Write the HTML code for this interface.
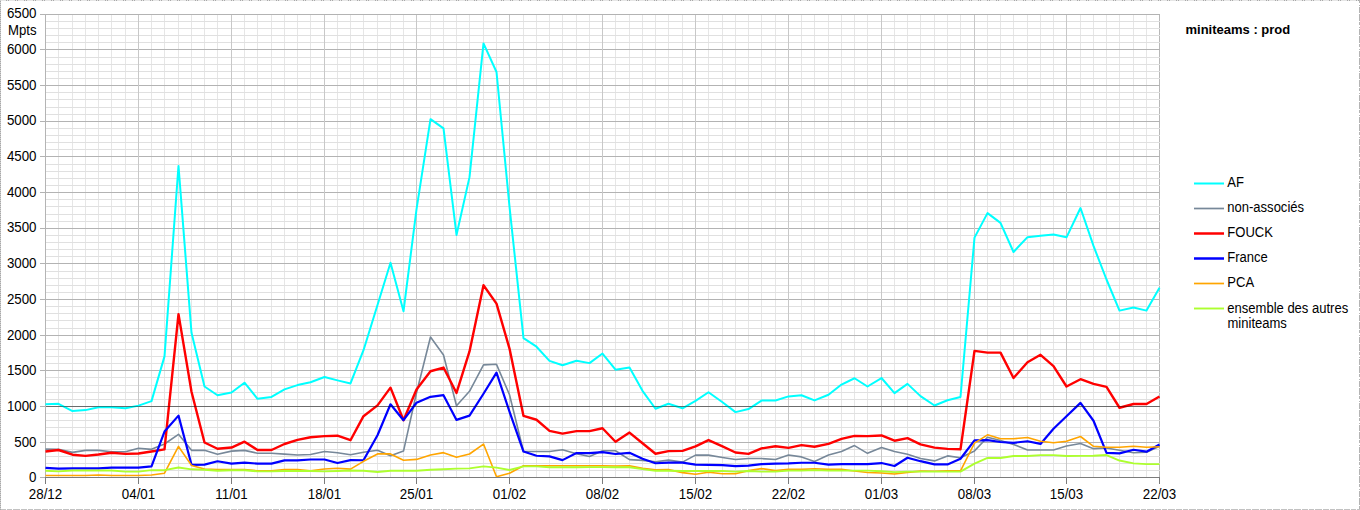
<!DOCTYPE html><html><head><meta charset="utf-8"><style>html,body{margin:0;padding:0;background:#fff;width:1360px;height:510px;overflow:hidden}svg{display:block}text{font-family:"Liberation Sans",sans-serif;fill:#000}</style></head><body>
<svg width="1360" height="510" viewBox="0 0 1360 510" shape-rendering="crispEdges">
<rect x="0" y="0" width="1360" height="510" fill="#fff"/>
<g stroke-width="1" fill="none">
<line x1="0" y1="0.5" x2="1360" y2="0.5" stroke="#e6e6e6"/>
<line x1="6" y1="0.5" x2="1360" y2="0.5" stroke="#a8a8a8" stroke-dasharray="1,1,1,6"/>
<line x1="0" y1="509.5" x2="1360" y2="509.5" stroke="#c2c2c2" stroke-dasharray="6,1,5,1,7,1"/>
<line x1="0.5" y1="0" x2="0.5" y2="510" stroke="#d0d0d0"/>
<line x1="0.5" y1="1" x2="0.5" y2="510" stroke="#a8a8a8" stroke-dasharray="1,1"/>
<line x1="1359.5" y1="0" x2="1359.5" y2="510" stroke="#b4b4b4" stroke-dasharray="3,2,1,1,6,1,7,1"/>
</g>
<g stroke="#e6e6e6" stroke-width="1">
<line x1="58.5" y1="15" x2="58.5" y2="477"/>
<line x1="72.5" y1="15" x2="72.5" y2="477"/>
<line x1="85.5" y1="15" x2="85.5" y2="477"/>
<line x1="98.5" y1="15" x2="98.5" y2="477"/>
<line x1="111.5" y1="15" x2="111.5" y2="477"/>
<line x1="125.5" y1="15" x2="125.5" y2="477"/>
<line x1="151.5" y1="15" x2="151.5" y2="477"/>
<line x1="164.5" y1="15" x2="164.5" y2="477"/>
<line x1="178.5" y1="15" x2="178.5" y2="477"/>
<line x1="191.5" y1="15" x2="191.5" y2="477"/>
<line x1="204.5" y1="15" x2="204.5" y2="477"/>
<line x1="217.5" y1="15" x2="217.5" y2="477"/>
<line x1="244.5" y1="15" x2="244.5" y2="477"/>
<line x1="257.5" y1="15" x2="257.5" y2="477"/>
<line x1="271.5" y1="15" x2="271.5" y2="477"/>
<line x1="284.5" y1="15" x2="284.5" y2="477"/>
<line x1="297.5" y1="15" x2="297.5" y2="477"/>
<line x1="310.5" y1="15" x2="310.5" y2="477"/>
<line x1="337.5" y1="15" x2="337.5" y2="477"/>
<line x1="350.5" y1="15" x2="350.5" y2="477"/>
<line x1="363.5" y1="15" x2="363.5" y2="477"/>
<line x1="377.5" y1="15" x2="377.5" y2="477"/>
<line x1="390.5" y1="15" x2="390.5" y2="477"/>
<line x1="403.5" y1="15" x2="403.5" y2="477"/>
<line x1="430.5" y1="15" x2="430.5" y2="477"/>
<line x1="443.5" y1="15" x2="443.5" y2="477"/>
<line x1="456.5" y1="15" x2="456.5" y2="477"/>
<line x1="469.5" y1="15" x2="469.5" y2="477"/>
<line x1="483.5" y1="15" x2="483.5" y2="477"/>
<line x1="496.5" y1="15" x2="496.5" y2="477"/>
<line x1="523.5" y1="15" x2="523.5" y2="477"/>
<line x1="536.5" y1="15" x2="536.5" y2="477"/>
<line x1="549.5" y1="15" x2="549.5" y2="477"/>
<line x1="562.5" y1="15" x2="562.5" y2="477"/>
<line x1="576.5" y1="15" x2="576.5" y2="477"/>
<line x1="589.5" y1="15" x2="589.5" y2="477"/>
<line x1="615.5" y1="15" x2="615.5" y2="477"/>
<line x1="629.5" y1="15" x2="629.5" y2="477"/>
<line x1="642.5" y1="15" x2="642.5" y2="477"/>
<line x1="655.5" y1="15" x2="655.5" y2="477"/>
<line x1="668.5" y1="15" x2="668.5" y2="477"/>
<line x1="682.5" y1="15" x2="682.5" y2="477"/>
<line x1="708.5" y1="15" x2="708.5" y2="477"/>
<line x1="722.5" y1="15" x2="722.5" y2="477"/>
<line x1="735.5" y1="15" x2="735.5" y2="477"/>
<line x1="748.5" y1="15" x2="748.5" y2="477"/>
<line x1="761.5" y1="15" x2="761.5" y2="477"/>
<line x1="775.5" y1="15" x2="775.5" y2="477"/>
<line x1="801.5" y1="15" x2="801.5" y2="477"/>
<line x1="814.5" y1="15" x2="814.5" y2="477"/>
<line x1="828.5" y1="15" x2="828.5" y2="477"/>
<line x1="841.5" y1="15" x2="841.5" y2="477"/>
<line x1="854.5" y1="15" x2="854.5" y2="477"/>
<line x1="867.5" y1="15" x2="867.5" y2="477"/>
<line x1="894.5" y1="15" x2="894.5" y2="477"/>
<line x1="907.5" y1="15" x2="907.5" y2="477"/>
<line x1="920.5" y1="15" x2="920.5" y2="477"/>
<line x1="934.5" y1="15" x2="934.5" y2="477"/>
<line x1="947.5" y1="15" x2="947.5" y2="477"/>
<line x1="960.5" y1="15" x2="960.5" y2="477"/>
<line x1="987.5" y1="15" x2="987.5" y2="477"/>
<line x1="1000.5" y1="15" x2="1000.5" y2="477"/>
<line x1="1013.5" y1="15" x2="1013.5" y2="477"/>
<line x1="1027.5" y1="15" x2="1027.5" y2="477"/>
<line x1="1040.5" y1="15" x2="1040.5" y2="477"/>
<line x1="1053.5" y1="15" x2="1053.5" y2="477"/>
<line x1="1080.5" y1="15" x2="1080.5" y2="477"/>
<line x1="1093.5" y1="15" x2="1093.5" y2="477"/>
<line x1="1106.5" y1="15" x2="1106.5" y2="477"/>
<line x1="1119.5" y1="15" x2="1119.5" y2="477"/>
<line x1="1133.5" y1="15" x2="1133.5" y2="477"/>
<line x1="1146.5" y1="15" x2="1146.5" y2="477"/>
</g>
<line x1="1159.5" y1="15" x2="1159.5" y2="477" stroke="#b8b8b8" stroke-width="1"/>
<g stroke="#e0e0e0" stroke-width="1">
<line x1="45" y1="470.5" x2="1160" y2="470.5"/>
<line x1="45" y1="463.5" x2="1160" y2="463.5"/>
<line x1="45" y1="456.5" x2="1160" y2="456.5"/>
<line x1="45" y1="449.5" x2="1160" y2="449.5"/>
<line x1="45" y1="435.5" x2="1160" y2="435.5"/>
<line x1="45" y1="427.5" x2="1160" y2="427.5"/>
<line x1="45" y1="420.5" x2="1160" y2="420.5"/>
<line x1="45" y1="413.5" x2="1160" y2="413.5"/>
<line x1="45" y1="399.5" x2="1160" y2="399.5"/>
<line x1="45" y1="392.5" x2="1160" y2="392.5"/>
<line x1="45" y1="385.5" x2="1160" y2="385.5"/>
<line x1="45" y1="377.5" x2="1160" y2="377.5"/>
<line x1="45" y1="363.5" x2="1160" y2="363.5"/>
<line x1="45" y1="356.5" x2="1160" y2="356.5"/>
<line x1="45" y1="349.5" x2="1160" y2="349.5"/>
<line x1="45" y1="342.5" x2="1160" y2="342.5"/>
<line x1="45" y1="328.5" x2="1160" y2="328.5"/>
<line x1="45" y1="320.5" x2="1160" y2="320.5"/>
<line x1="45" y1="313.5" x2="1160" y2="313.5"/>
<line x1="45" y1="306.5" x2="1160" y2="306.5"/>
<line x1="45" y1="292.5" x2="1160" y2="292.5"/>
<line x1="45" y1="285.5" x2="1160" y2="285.5"/>
<line x1="45" y1="278.5" x2="1160" y2="278.5"/>
<line x1="45" y1="271.5" x2="1160" y2="271.5"/>
<line x1="45" y1="256.5" x2="1160" y2="256.5"/>
<line x1="45" y1="249.5" x2="1160" y2="249.5"/>
<line x1="45" y1="242.5" x2="1160" y2="242.5"/>
<line x1="45" y1="235.5" x2="1160" y2="235.5"/>
<line x1="45" y1="221.5" x2="1160" y2="221.5"/>
<line x1="45" y1="214.5" x2="1160" y2="214.5"/>
<line x1="45" y1="206.5" x2="1160" y2="206.5"/>
<line x1="45" y1="199.5" x2="1160" y2="199.5"/>
<line x1="45" y1="185.5" x2="1160" y2="185.5"/>
<line x1="45" y1="178.5" x2="1160" y2="178.5"/>
<line x1="45" y1="171.5" x2="1160" y2="171.5"/>
<line x1="45" y1="164.5" x2="1160" y2="164.5"/>
<line x1="45" y1="149.5" x2="1160" y2="149.5"/>
<line x1="45" y1="142.5" x2="1160" y2="142.5"/>
<line x1="45" y1="135.5" x2="1160" y2="135.5"/>
<line x1="45" y1="128.5" x2="1160" y2="128.5"/>
<line x1="45" y1="114.5" x2="1160" y2="114.5"/>
<line x1="45" y1="107.5" x2="1160" y2="107.5"/>
<line x1="45" y1="99.5" x2="1160" y2="99.5"/>
<line x1="45" y1="92.5" x2="1160" y2="92.5"/>
<line x1="45" y1="78.5" x2="1160" y2="78.5"/>
<line x1="45" y1="71.5" x2="1160" y2="71.5"/>
<line x1="45" y1="64.5" x2="1160" y2="64.5"/>
<line x1="45" y1="57.5" x2="1160" y2="57.5"/>
<line x1="45" y1="42.5" x2="1160" y2="42.5"/>
<line x1="45" y1="35.5" x2="1160" y2="35.5"/>
<line x1="45" y1="28.5" x2="1160" y2="28.5"/>
<line x1="45" y1="21.5" x2="1160" y2="21.5"/>
</g>
<g stroke="#b3b3b3" stroke-width="1">
<line x1="40" y1="477.5" x2="1160" y2="477.5"/>
<line x1="40" y1="442.5" x2="1160" y2="442.5"/>
<line x1="40" y1="406.5" x2="1160" y2="406.5"/>
<line x1="40" y1="370.5" x2="1160" y2="370.5"/>
<line x1="40" y1="335.5" x2="1160" y2="335.5"/>
<line x1="40" y1="299.5" x2="1160" y2="299.5"/>
<line x1="40" y1="263.5" x2="1160" y2="263.5"/>
<line x1="40" y1="228.5" x2="1160" y2="228.5"/>
<line x1="40" y1="192.5" x2="1160" y2="192.5"/>
<line x1="40" y1="156.5" x2="1160" y2="156.5"/>
<line x1="40" y1="121.5" x2="1160" y2="121.5"/>
<line x1="40" y1="85.5" x2="1160" y2="85.5"/>
<line x1="40" y1="49.5" x2="1160" y2="49.5"/>
<line x1="40" y1="14.5" x2="1160" y2="14.5"/>
</g>
<g stroke="#c8c8c8" stroke-width="1">
<line x1="138.5" y1="15" x2="138.5" y2="477"/>
<line x1="231.5" y1="15" x2="231.5" y2="477"/>
<line x1="324.5" y1="15" x2="324.5" y2="477"/>
<line x1="416.5" y1="15" x2="416.5" y2="477"/>
<line x1="509.5" y1="15" x2="509.5" y2="477"/>
<line x1="602.5" y1="15" x2="602.5" y2="477"/>
<line x1="695.5" y1="15" x2="695.5" y2="477"/>
<line x1="788.5" y1="15" x2="788.5" y2="477"/>
<line x1="881.5" y1="15" x2="881.5" y2="477"/>
<line x1="974.5" y1="15" x2="974.5" y2="477"/>
<line x1="1066.5" y1="15" x2="1066.5" y2="477"/>
</g>
<line x1="45.5" y1="14" x2="45.5" y2="477" stroke="#b4b4b4" stroke-width="1"/>
<g fill="none" stroke-linejoin="round" stroke-linecap="butt" shape-rendering="geometricPrecision">
<polyline stroke="#00ffff" stroke-width="2" points="45.50,404.20 58.50,403.77 72.50,411.04 85.50,410.12 98.50,407.34 111.50,407.34 125.50,408.33 138.50,405.62 151.50,401.13 164.50,356.40 178.50,165.94 191.50,332.86 204.50,386.51 217.50,395.21 231.50,392.43 244.50,382.73 257.50,398.78 271.50,396.92 284.50,389.36 297.50,385.08 310.50,382.23 324.50,377.02 337.50,380.37 350.50,383.44 363.50,350.20 377.50,305.04 390.50,262.82 403.50,311.25 416.50,209.46 430.50,119.15 443.50,128.42 456.50,234.92 469.50,177.14 483.50,43.39 496.50,72.00 509.50,206.60 523.50,338.07 536.50,346.70 549.50,360.83 562.50,365.25 576.50,360.76 589.50,363.11 602.50,353.55 615.50,369.74 629.50,367.46 642.50,390.86 655.50,408.76 668.50,403.70 682.50,408.26 695.50,400.92 708.50,392.28 722.50,402.27 735.50,412.11 748.50,409.05 761.50,400.56 775.50,400.56 788.50,396.42 801.50,395.21 814.50,400.42 828.50,394.78 841.50,384.58 854.50,378.23 867.50,386.51 881.50,378.02 894.50,393.14 907.50,383.87 920.50,396.14 934.50,405.48 947.50,400.20 960.50,396.99 974.50,237.63 987.50,213.10 1000.50,222.87 1013.50,251.97 1027.50,237.14 1040.50,235.78 1053.50,234.42 1066.50,237.35 1080.50,208.03 1093.50,245.91 1106.50,279.51 1119.50,310.61 1133.50,307.54 1146.50,310.61 1159.50,287.85"/>
<polyline stroke="#778899" stroke-width="1.6" points="45.50,449.14 58.50,449.35 72.50,452.35 85.50,450.35 98.50,450.35 111.50,451.78 125.50,451.78 138.50,448.21 151.50,449.35 164.50,444.00 178.50,434.30 191.50,450.35 204.50,450.35 217.50,454.34 231.50,451.13 244.50,450.35 257.50,453.27 271.50,453.27 284.50,454.13 297.50,455.06 310.50,454.49 324.50,451.49 337.50,452.70 350.50,454.70 363.50,452.28 377.50,450.28 390.50,455.77 403.50,451.06 416.50,392.78 430.50,337.00 443.50,354.98 456.50,405.77 469.50,391.29 483.50,364.89 496.50,364.32 509.50,394.78 523.50,451.56 536.50,451.56 549.50,451.56 562.50,449.71 576.50,453.84 589.50,456.41 602.50,450.78 615.50,450.78 629.50,459.62 642.50,460.41 655.50,461.69 668.50,460.12 682.50,462.12 695.50,455.13 708.50,455.13 722.50,457.55 735.50,459.55 748.50,458.55 761.50,458.55 775.50,459.55 788.50,454.99 801.50,456.91 814.50,461.41 828.50,454.99 841.50,451.42 854.50,445.57 867.50,453.35 881.50,447.42 894.50,451.56 907.50,454.34 920.50,458.48 934.50,460.91 947.50,455.91 960.50,457.70 974.50,450.92 987.50,437.22 1000.50,440.43 1013.50,444.43 1027.50,449.99 1040.50,449.99 1053.50,449.99 1066.50,446.00 1080.50,443.43 1093.50,448.64 1106.50,447.92 1119.50,450.28 1133.50,452.70 1146.50,452.20 1159.50,446.28"/>
<polyline stroke="#ff0000" stroke-width="2.4" points="45.50,451.49 58.50,449.99 72.50,454.70 85.50,455.91 98.50,454.49 111.50,452.70 125.50,453.92 138.50,453.56 151.50,451.49 164.50,449.35 178.50,314.17 191.50,391.71 204.50,442.50 217.50,448.78 231.50,447.57 244.50,441.65 257.50,449.99 271.50,449.99 284.50,444.00 297.50,439.86 310.50,437.22 324.50,436.08 337.50,435.73 350.50,440.22 363.50,416.18 377.50,405.34 390.50,387.65 403.50,420.25 416.50,389.57 430.50,371.24 443.50,367.53 456.50,392.93 469.50,351.41 483.50,285.28 496.50,303.62 509.50,348.56 523.50,415.97 536.50,419.75 549.50,430.80 562.50,433.59 576.50,431.09 589.50,431.09 602.50,428.24 615.50,441.72 629.50,432.59 642.50,443.29 655.50,453.70 668.50,451.13 682.50,450.92 695.50,446.43 708.50,440.08 722.50,446.43 735.50,452.49 748.50,453.92 761.50,448.42 775.50,446.28 788.50,447.92 801.50,445.07 814.50,446.71 828.50,443.86 841.50,438.94 854.50,435.87 867.50,436.08 881.50,435.44 894.50,440.72 907.50,438.08 920.50,444.43 934.50,447.57 947.50,448.85 960.50,449.21 974.50,350.84 987.50,352.62 1000.50,352.62 1013.50,378.02 1027.50,362.25 1040.50,354.83 1053.50,366.18 1066.50,386.51 1080.50,379.23 1093.50,383.87 1106.50,386.93 1119.50,407.76 1133.50,403.98 1146.50,403.98 1159.50,396.42"/>
<polyline stroke="#0000ff" stroke-width="2.2" points="45.50,467.83 58.50,468.61 72.50,468.40 85.50,468.40 98.50,468.40 111.50,467.54 125.50,467.54 138.50,467.54 151.50,466.40 164.50,431.52 178.50,415.61 191.50,464.83 204.50,464.62 217.50,461.26 231.50,463.62 244.50,462.69 257.50,463.62 271.50,463.62 284.50,460.41 297.50,460.41 310.50,459.48 324.50,459.48 337.50,463.05 350.50,460.19 363.50,460.26 377.50,435.23 390.50,404.27 403.50,420.18 416.50,402.77 430.50,396.85 443.50,395.14 456.50,419.89 469.50,415.61 483.50,393.78 496.50,372.60 509.50,411.69 523.50,451.56 536.50,455.77 549.50,456.41 562.50,460.12 576.50,453.06 589.50,453.06 602.50,452.06 615.50,453.99 629.50,452.85 642.50,458.77 655.50,463.26 668.50,462.55 682.50,462.55 695.50,464.54 708.50,464.97 722.50,465.19 735.50,466.19 748.50,465.61 761.50,464.19 775.50,463.55 788.50,463.47 801.50,462.76 814.50,462.76 828.50,464.69 841.50,464.19 854.50,464.19 867.50,464.19 881.50,463.05 894.50,465.97 907.50,457.70 920.50,461.19 934.50,464.40 947.50,464.40 960.50,458.77 974.50,440.43 987.50,440.15 1000.50,442.00 1013.50,442.79 1027.50,441.22 1040.50,443.93 1053.50,428.81 1066.50,416.32 1080.50,402.91 1093.50,420.75 1106.50,452.92 1119.50,453.35 1133.50,449.78 1146.50,451.70 1159.50,444.57"/>
<polyline stroke="#ffa500" stroke-width="1.6" points="45.50,475.53 58.50,475.53 72.50,475.53 85.50,475.53 98.50,474.96 111.50,475.53 125.50,475.53 138.50,475.53 151.50,474.96 164.50,473.18 178.50,446.43 191.50,465.40 204.50,468.97 217.50,469.61 231.50,469.61 244.50,469.61 257.50,470.75 271.50,470.75 284.50,469.61 297.50,469.61 310.50,470.75 324.50,468.97 337.50,468.18 350.50,469.11 363.50,461.33 377.50,453.92 390.50,453.92 403.50,460.26 416.50,459.41 430.50,454.99 443.50,452.63 456.50,457.27 469.50,453.99 483.50,444.07 496.50,476.74 509.50,473.18 523.50,465.69 536.50,465.69 549.50,465.69 562.50,465.69 576.50,465.69 589.50,465.69 602.50,465.69 615.50,465.97 629.50,465.69 642.50,468.40 655.50,469.68 668.50,469.61 682.50,472.61 695.50,474.25 708.50,472.25 722.50,473.68 735.50,473.68 748.50,470.61 761.50,468.61 775.50,470.61 788.50,469.40 801.50,469.40 814.50,468.68 828.50,469.40 841.50,469.40 854.50,471.04 867.50,472.46 881.50,472.96 894.50,473.96 907.50,472.39 920.50,471.11 934.50,471.25 947.50,470.82 960.50,470.82 974.50,443.07 987.50,434.80 1000.50,438.79 1013.50,438.79 1027.50,437.51 1040.50,441.22 1053.50,442.79 1066.50,441.22 1080.50,436.51 1093.50,446.28 1106.50,447.21 1119.50,447.21 1133.50,446.28 1146.50,447.21 1159.50,446.78"/>
<polyline stroke="#adff2f" stroke-width="1.9" points="45.50,470.75 58.50,471.39 72.50,470.54 85.50,470.54 98.50,470.54 111.50,470.54 125.50,471.61 138.50,471.61 151.50,470.18 164.50,470.18 178.50,467.47 191.50,469.32 204.50,469.82 217.50,470.75 231.50,470.18 244.50,470.18 257.50,471.39 271.50,471.39 284.50,471.04 297.50,471.04 310.50,471.04 324.50,471.39 337.50,471.04 350.50,470.54 363.50,470.82 377.50,471.96 390.50,470.82 403.50,470.82 416.50,470.82 430.50,469.75 443.50,469.25 456.50,468.61 469.50,468.40 483.50,466.33 496.50,467.61 509.50,469.97 523.50,466.33 536.50,466.33 549.50,467.26 562.50,467.26 576.50,467.26 589.50,467.11 602.50,467.11 615.50,467.26 629.50,467.26 642.50,469.18 655.50,470.82 668.50,470.75 682.50,471.04 695.50,471.04 708.50,471.04 722.50,471.04 735.50,471.61 748.50,471.04 761.50,471.61 775.50,471.61 788.50,470.61 801.50,470.61 814.50,470.11 828.50,470.61 841.50,470.61 854.50,470.61 867.50,470.61 881.50,471.25 894.50,472.11 907.50,471.61 920.50,471.61 934.50,471.61 947.50,471.61 960.50,471.61 974.50,463.62 987.50,457.84 1000.50,457.98 1013.50,456.06 1027.50,456.06 1040.50,455.13 1053.50,455.13 1066.50,456.06 1080.50,455.91 1093.50,455.77 1106.50,455.06 1119.50,460.55 1133.50,463.40 1146.50,464.12 1159.50,464.12"/>
</g>
<g stroke="#7c7c7c" stroke-width="1">
<line x1="45" y1="477.5" x2="1160" y2="477.5"/>
<line x1="45.5" y1="478" x2="45.5" y2="484"/>
<line x1="138.5" y1="478" x2="138.5" y2="484"/>
<line x1="231.5" y1="478" x2="231.5" y2="484"/>
<line x1="324.5" y1="478" x2="324.5" y2="484"/>
<line x1="416.5" y1="478" x2="416.5" y2="484"/>
<line x1="509.5" y1="478" x2="509.5" y2="484"/>
<line x1="602.5" y1="478" x2="602.5" y2="484"/>
<line x1="695.5" y1="478" x2="695.5" y2="484"/>
<line x1="788.5" y1="478" x2="788.5" y2="484"/>
<line x1="881.5" y1="478" x2="881.5" y2="484"/>
<line x1="974.5" y1="478" x2="974.5" y2="484"/>
<line x1="1066.5" y1="478" x2="1066.5" y2="484"/>
<line x1="1159.5" y1="478" x2="1159.5" y2="484"/>
</g>
<line x1="46" y1="406.5" x2="1160" y2="406.5" stroke="#000" stroke-opacity="0.4" stroke-width="1"/>
<text transform="translate(36.50,482.40) scale(0.965,1)" font-size="13.8" text-anchor="end">0</text>
<text transform="translate(36.50,446.69) scale(0.965,1)" font-size="13.8" text-anchor="end">500</text>
<text transform="translate(36.50,410.99) scale(0.965,1)" font-size="13.8" text-anchor="end">1000</text>
<text transform="translate(36.50,375.28) scale(0.965,1)" font-size="13.8" text-anchor="end">1500</text>
<text transform="translate(36.50,339.58) scale(0.965,1)" font-size="13.8" text-anchor="end">2000</text>
<text transform="translate(36.50,303.88) scale(0.965,1)" font-size="13.8" text-anchor="end">2500</text>
<text transform="translate(36.50,268.17) scale(0.965,1)" font-size="13.8" text-anchor="end">3000</text>
<text transform="translate(36.50,232.46) scale(0.965,1)" font-size="13.8" text-anchor="end">3500</text>
<text transform="translate(36.50,196.76) scale(0.965,1)" font-size="13.8" text-anchor="end">4000</text>
<text transform="translate(36.50,161.05) scale(0.965,1)" font-size="13.8" text-anchor="end">4500</text>
<text transform="translate(36.50,125.35) scale(0.965,1)" font-size="13.8" text-anchor="end">5000</text>
<text transform="translate(36.50,89.64) scale(0.965,1)" font-size="13.8" text-anchor="end">5500</text>
<text transform="translate(36.50,53.94) scale(0.965,1)" font-size="13.8" text-anchor="end">6000</text>
<text transform="translate(36.50,18.23) scale(0.965,1)" font-size="13.8" text-anchor="end">6500</text>
<text transform="translate(22.30,35.00) scale(0.955,1)" font-size="13.8" text-anchor="middle">Mpts</text>
<text transform="translate(45.50,499.00) scale(0.965,1)" font-size="13.8" text-anchor="middle">28/12</text>
<text transform="translate(138.50,499.00) scale(0.965,1)" font-size="13.8" text-anchor="middle">04/01</text>
<text transform="translate(231.50,499.00) scale(0.965,1)" font-size="13.8" text-anchor="middle">11/01</text>
<text transform="translate(324.50,499.00) scale(0.965,1)" font-size="13.8" text-anchor="middle">18/01</text>
<text transform="translate(416.50,499.00) scale(0.965,1)" font-size="13.8" text-anchor="middle">25/01</text>
<text transform="translate(509.50,499.00) scale(0.965,1)" font-size="13.8" text-anchor="middle">01/02</text>
<text transform="translate(602.50,499.00) scale(0.965,1)" font-size="13.8" text-anchor="middle">08/02</text>
<text transform="translate(695.50,499.00) scale(0.965,1)" font-size="13.8" text-anchor="middle">15/02</text>
<text transform="translate(788.50,499.00) scale(0.965,1)" font-size="13.8" text-anchor="middle">22/02</text>
<text transform="translate(881.50,499.00) scale(0.965,1)" font-size="13.8" text-anchor="middle">01/03</text>
<text transform="translate(974.50,499.00) scale(0.965,1)" font-size="13.8" text-anchor="middle">08/03</text>
<text transform="translate(1066.50,499.00) scale(0.965,1)" font-size="13.8" text-anchor="middle">15/03</text>
<text transform="translate(1159.50,499.00) scale(0.965,1)" font-size="13.8" text-anchor="middle">22/03</text>
<text transform="translate(1185.50,34.00) scale(1,1)" font-size="13" text-anchor="start" font-weight="bold">miniteams : prod</text>
<g shape-rendering="geometricPrecision">
<line x1="1194" y1="183.5" x2="1224" y2="183.5" stroke="#00ffff" stroke-width="2"/>
<text transform="translate(1227.30,187.00) scale(0.945,1)" font-size="13.8" text-anchor="start">AF</text>
<line x1="1194" y1="208.5" x2="1224" y2="208.5" stroke="#778899" stroke-width="1.7"/>
<text transform="translate(1227.30,212.00) scale(0.945,1)" font-size="13.8" text-anchor="start">non-associés</text>
<line x1="1194" y1="233.5" x2="1224" y2="233.5" stroke="#ff0000" stroke-width="2.5"/>
<text transform="translate(1227.30,237.00) scale(0.945,1)" font-size="13.8" text-anchor="start">FOUCK</text>
<line x1="1194" y1="258.5" x2="1224" y2="258.5" stroke="#0000ff" stroke-width="2.5"/>
<text transform="translate(1227.30,262.00) scale(0.945,1)" font-size="13.8" text-anchor="start">France</text>
<line x1="1194" y1="283.5" x2="1224" y2="283.5" stroke="#ffa500" stroke-width="1.7"/>
<text transform="translate(1227.30,287.00) scale(0.945,1)" font-size="13.8" text-anchor="start">PCA</text>
<line x1="1194" y1="308.5" x2="1224" y2="308.5" stroke="#adff2f" stroke-width="1.9"/>
<text transform="translate(1227.30,312.80) scale(0.945,1)" font-size="13.8" text-anchor="start">ensemble des autres</text>
<text transform="translate(1227.50,327.80) scale(0.945,1)" font-size="13.8" text-anchor="start">miniteams</text>
</g>
</svg></body></html>
